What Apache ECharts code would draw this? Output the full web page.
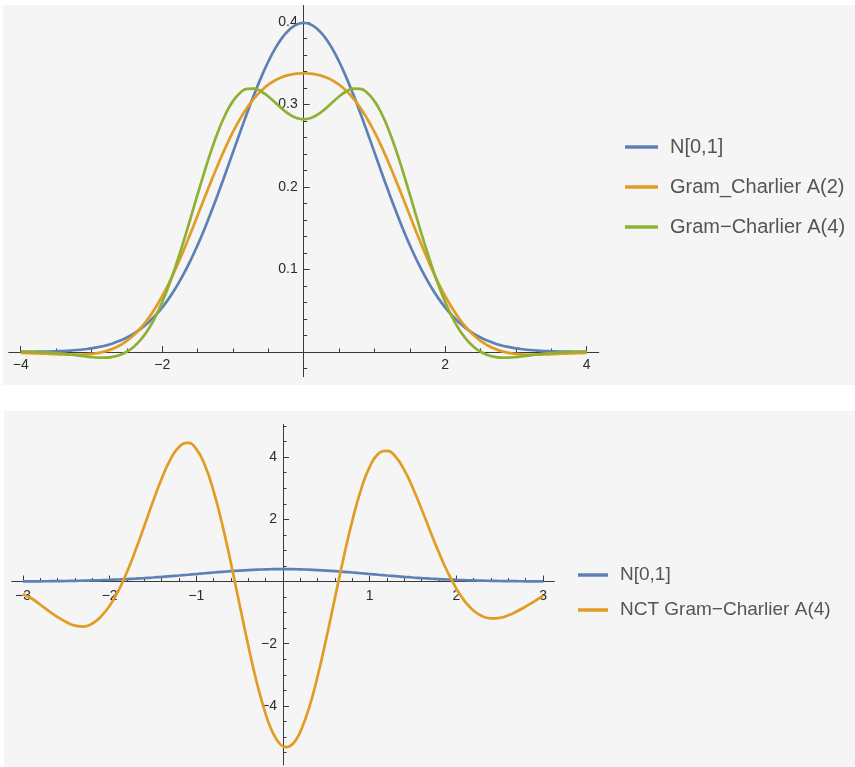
<!DOCTYPE html>
<html>
<head>
<meta charset="utf-8">
<title>Gram-Charlier</title>
<script src="https://cdn.jsdelivr.net/npm/echarts@6.0.0/dist/echarts.min.js"></script>
<style>
  html, body { margin: 0; padding: 0; background: #fff; }
  .panel { position: absolute; background: #f5f5f5; }
  #top { left: 3px; top: 5px; width: 852px; height: 380px; }
  #bottom { left: 4px; top: 411px; width: 851px; height: 356px; }
</style>
</head>
<body>
<div id="top" class="panel"></div>
<div id="bottom" class="panel"></div>
<script>
// ---- top plot: x from -4 to 4, step 0.1
const topX = [-4, -3.9, -3.8, -3.7, -3.6, -3.5, -3.4, -3.3, -3.2, -3.1, -3, -2.9, -2.8, -2.7, -2.6, -2.5, -2.4, -2.3, -2.2, -2.1,
  -2, -1.9, -1.8, -1.7, -1.6, -1.5, -1.4, -1.3, -1.2, -1.1, -1, -0.9, -0.8, -0.7, -0.6, -0.5, -0.4, -0.3, -0.2, -0.1,
  0, 0.1, 0.2, 0.3, 0.4, 0.5, 0.6, 0.7, 0.8, 0.9, 1, 1.1, 1.2, 1.3, 1.4, 1.5, 1.6, 1.7, 1.8, 1.9,
  2, 2.1, 2.2, 2.3, 2.4, 2.5, 2.6, 2.7, 2.8, 2.9, 3, 3.1, 3.2, 3.3, 3.4, 3.5, 3.6, 3.7, 3.8, 3.9, 4]
const normalTop = [0.0001, 0.0002, 0.0003, 0.0004, 0.0006, 0.0009, 0.0012, 0.0017, 0.0024, 0.0033, 0.0044, 0.0060, 0.0079, 0.0104, 0.0136, 0.0175, 0.0224, 0.0283, 0.0355, 0.0440,
  0.0540, 0.0656, 0.0790, 0.0940, 0.1109, 0.1295, 0.1497, 0.1714, 0.1942, 0.2179, 0.2420, 0.2661, 0.2897, 0.3123, 0.3332, 0.3521, 0.3683, 0.3814, 0.3910, 0.3970,
  0.3989, 0.3970, 0.3910, 0.3814, 0.3683, 0.3521, 0.3332, 0.3123, 0.2897, 0.2661, 0.2420, 0.2179, 0.1942, 0.1714, 0.1497, 0.1295, 0.1109, 0.0940, 0.0790, 0.0656,
  0.0540, 0.0440, 0.0355, 0.0283, 0.0224, 0.0175, 0.0136, 0.0104, 0.0079, 0.0060, 0.0044, 0.0033, 0.0024, 0.0017, 0.0012, 0.0009, 0.0006, 0.0004, 0.0003, 0.0002, 0.0001]
const gramA2 = [-0.0010, -0.0013, -0.0016, -0.0019, -0.0023, -0.0027, -0.0030, -0.0032, -0.0033, -0.0030, -0.0023, -0.0011, 0.0009, 0.0038, 0.0080, 0.0135, 0.0206, 0.0294, 0.0402, 0.0530,
  0.0678, 0.0845, 0.1029, 0.1228, 0.1437, 0.1654, 0.1872, 0.2088, 0.2295, 0.2489, 0.2667, 0.2824, 0.2961, 0.3075, 0.3167, 0.3240, 0.3295, 0.3334, 0.3359, 0.3374,
  0.3379, 0.3374, 0.3359, 0.3334, 0.3295, 0.3240, 0.3167, 0.3075, 0.2961, 0.2824, 0.2667, 0.2489, 0.2295, 0.2088, 0.1872, 0.1654, 0.1437, 0.1228, 0.1029, 0.0845,
  0.0678, 0.0530, 0.0402, 0.0294, 0.0206, 0.0135, 0.0080, 0.0038, 0.0009, -0.0011, -0.0023, -0.0030, -0.0033, -0.0032, -0.0030, -0.0027, -0.0023, -0.0019, -0.0016, -0.0013, -0.0010]
const gramA4 = [0.0004, 0.0003, 0.0001, -0.0002, -0.0006, -0.0012, -0.0020, -0.0030, -0.0041, -0.0051, -0.0061, -0.0067, -0.0068, -0.0059, -0.0037, 0.0003, 0.0064, 0.0152, 0.0270, 0.0421,
  0.0605, 0.0821, 0.1068, 0.1336, 0.1620, 0.1910, 0.2193, 0.2459, 0.2695, 0.2891, 0.3041, 0.3140, 0.3190, 0.3193, 0.3158, 0.3097, 0.3021, 0.2944, 0.2879, 0.2836,
  0.2820, 0.2836, 0.2879, 0.2944, 0.3021, 0.3097, 0.3158, 0.3193, 0.3190, 0.3140, 0.3041, 0.2891, 0.2695, 0.2459, 0.2193, 0.1910, 0.1620, 0.1336, 0.1068, 0.0821,
  0.0605, 0.0421, 0.0270, 0.0152, 0.0064, 0.0003, -0.0037, -0.0059, -0.0068, -0.0067, -0.0061, -0.0051, -0.0041, -0.0030, -0.0020, -0.0012, -0.0006, -0.0002, 0.0001, 0.0003, 0.0004]
const topNames = ['N[0,1]', 'Gram_Charlier A(2)', 'Gram\u2212Charlier A(4)']
const topXTicks = [-4, -2, 0, 2, 4]
const topXLabels = [-4, -2, 2, 4]
const topYTicks = [0, 0.1, 0.2, 0.3, 0.4]
const topYLabels = [0.1, 0.2, 0.3, 0.4]

// ---- bottom plot: x from -3 to 3, step 0.1 (extra points near the trough at 0)
const bottomX = [-3, -2.9, -2.8, -2.7, -2.6, -2.5, -2.4, -2.3, -2.2, -2.1, -2, -1.9, -1.8, -1.7, -1.6, -1.5, -1.4, -1.3, -1.2, -1.1,
  -1, -0.9, -0.8, -0.7, -0.6, -0.5, -0.4, -0.3, -0.2, -0.15, -0.1, -0.05, 0, 0.05, 0.1, 0.15, 0.2, 0.3, 0.4, 0.5, 0.6, 0.7, 0.8, 0.9,
  1, 1.1, 1.2, 1.3, 1.4, 1.5, 1.6, 1.7, 1.8, 1.9, 2, 2.1, 2.2, 2.3, 2.4, 2.5, 2.6, 2.7, 2.8, 2.9, 3]
const normalBottom = [0.0044, 0.0060, 0.0079, 0.0104, 0.0136, 0.0175, 0.0224, 0.0283, 0.0355, 0.0440, 0.0540, 0.0656, 0.0790, 0.0940, 0.1109, 0.1295, 0.1497, 0.1714, 0.1942, 0.2179,
  0.2420, 0.2661, 0.2897, 0.3123, 0.3332, 0.3521, 0.3683, 0.3814, 0.3910, 0.3945, 0.3970, 0.3984, 0.3989, 0.3984, 0.3970, 0.3945, 0.3910, 0.3814, 0.3683, 0.3521, 0.3332, 0.3123, 0.2897, 0.2661,
  0.2420, 0.2179, 0.1942, 0.1714, 0.1497, 0.1295, 0.1109, 0.0940, 0.0790, 0.0656, 0.0540, 0.0440, 0.0355, 0.0283, 0.0224, 0.0175, 0.0136, 0.0104, 0.0079, 0.0060, 0.0044]
const nctA4 = [-0.41, -0.546, -0.746, -0.951, -1.143, -1.302, -1.42, -1.45, -1.35, -1.126, -0.78, -0.299, 0.309, 1.015, 1.787, 2.572, 3.307, 3.921, 4.328, 4.457,
  4.26, 3.733, 2.901, 1.825, 0.578, -0.754, -2.071, -3.276, -4.265, -4.653, -4.959, -5.175, -5.297, -5.323, -5.253, -5.087, -4.831, -4.072, -3.039, -1.822, -0.518, 0.775, 1.961, 2.957,
  3.688, 4.107, 4.204, 4.009, 3.581, 2.994, 2.317, 1.609, 0.923, 0.299, -0.228, -0.644, -0.938, -1.116, -1.187, -1.17, -1.087, -0.957, -0.802, -0.636, -0.45]
const bottomNames = ['N[0,1]', 'NCT Gram\u2212Charlier A(4)']
const bottomXTicks = [-3, -2, -1, 0, 1, 2, 3]
const bottomXLabels = [-3, -2, -1, 1, 2, 3]
const bottomYTicks = [-4, -2, 0, 2, 4]
const bottomYLabels = [-4, -2, 2, 4]

const BLUE = '#5E81B5'
const ORANGE = '#E19C24'
const GREEN = '#8FB032'
const AXIS = '#3a3a3a'
const FONT = '"Liberation Sans", Arial, sans-serif'

const topGrid = { left: 5.7, top: 0.5, width: 590, height: 371.25 }
const bottomGrid = { left: 7.7, top: 13.5, width: 542.6, height: 340.5 }

function pairs(xs, ys) {
  return xs.map((x, i) => [x, ys[i]])
}

function fmt(v) {
  return String(v).replace('-', '\u2212')
}

function valueAxis(o) {
  return {
    type: 'value',
    min: o.min,
    max: o.max,
    minInterval: o.step,
    maxInterval: o.step,
    splitLine: { show: false },
    axisLine: { onZero: false, lineStyle: { color: AXIS, width: 1 } },
    axisTick: { inside: true, length: 6, customValues: o.ticks, lineStyle: { color: AXIS } },
    minorTick: { show: true, splitNumber: o.minor, length: 3.5, lineStyle: { color: AXIS } },
    axisLabel: { customValues: o.labels, formatter: fmt, color: '#2b2b2b', fontSize: 14, margin: o.margin || 6, fontFamily: FONT }
  }
}

function line(name, xs, ys, color) {
  return {
    name: name,
    type: 'line',
    data: pairs(xs, ys),
    symbol: 'none',
    smooth: true,
    lineStyle: { width: 2.7, color: color },
    itemStyle: { color: color }
  }
}

function legend(names, o) {
  return {
    orient: 'vertical',
    left: o.left,
    top: o.top,
    padding: 0,
    itemGap: o.gap,
    icon: 'rect',
    itemWidth: o.w,
    itemHeight: 3.5,
    data: names,
    textStyle: { fontSize: o.size, lineHeight: o.size, color: '#555', fontFamily: FONT, padding: [0, 0, 0, 7] }
  }
}

// move both axes so they cross at the data origin (labels follow the axis)
function crossAtOrigin(chart, grid) {
  const p = chart.convertToPixel({ gridIndex: 0 }, [0, 0])
  chart.setOption({
    xAxis: { offset: p[1] - (grid.top + grid.height) },
    yAxis: { offset: grid.left - p[0] }
  })
}

const topChart = echarts.init(document.getElementById('top'))
topChart.setOption({
  animation: false,
  grid: Object.assign({ outerBoundsMode: 'none' }, topGrid),
  xAxis: valueAxis({ min: -4.17, max: 4.17, step: 2, minor: 4, ticks: topXTicks, labels: topXLabels }),
  yAxis: valueAxis({ min: -0.03, max: 0.42, step: 0.1, minor: 5, ticks: topYTicks, labels: topYLabels }),
  legend: legend(topNames, { left: 622, top: 132, gap: 20, w: 33, size: 20 }),
  series: [
    line(topNames[0], topX, normalTop, BLUE),
    line(topNames[1], topX, gramA2, ORANGE),
    line(topNames[2], topX, gramA4, GREEN)
  ]
})
crossAtOrigin(topChart, topGrid)

const bottomChart = echarts.init(document.getElementById('bottom'))
bottomChart.setOption({
  animation: false,
  grid: Object.assign({ outerBoundsMode: 'none' }, bottomGrid),
  xAxis: valueAxis({ min: -3.13, max: 3.13, step: 1, minor: 5, ticks: bottomXTicks, labels: bottomXLabels, margin: 8 }),
  yAxis: valueAxis({ min: -5.9, max: 5.05, step: 2, minor: 4, ticks: bottomYTicks, labels: bottomYLabels }),
  legend: legend(bottomNames, { left: 574, top: 154.5, gap: 16, w: 30, size: 19 }),
  series: [
    line(bottomNames[0], bottomX, normalBottom, BLUE),
    line(bottomNames[1], bottomX, nctA4, ORANGE)
  ]
})
crossAtOrigin(bottomChart, bottomGrid)
</script>
</body>
</html>
